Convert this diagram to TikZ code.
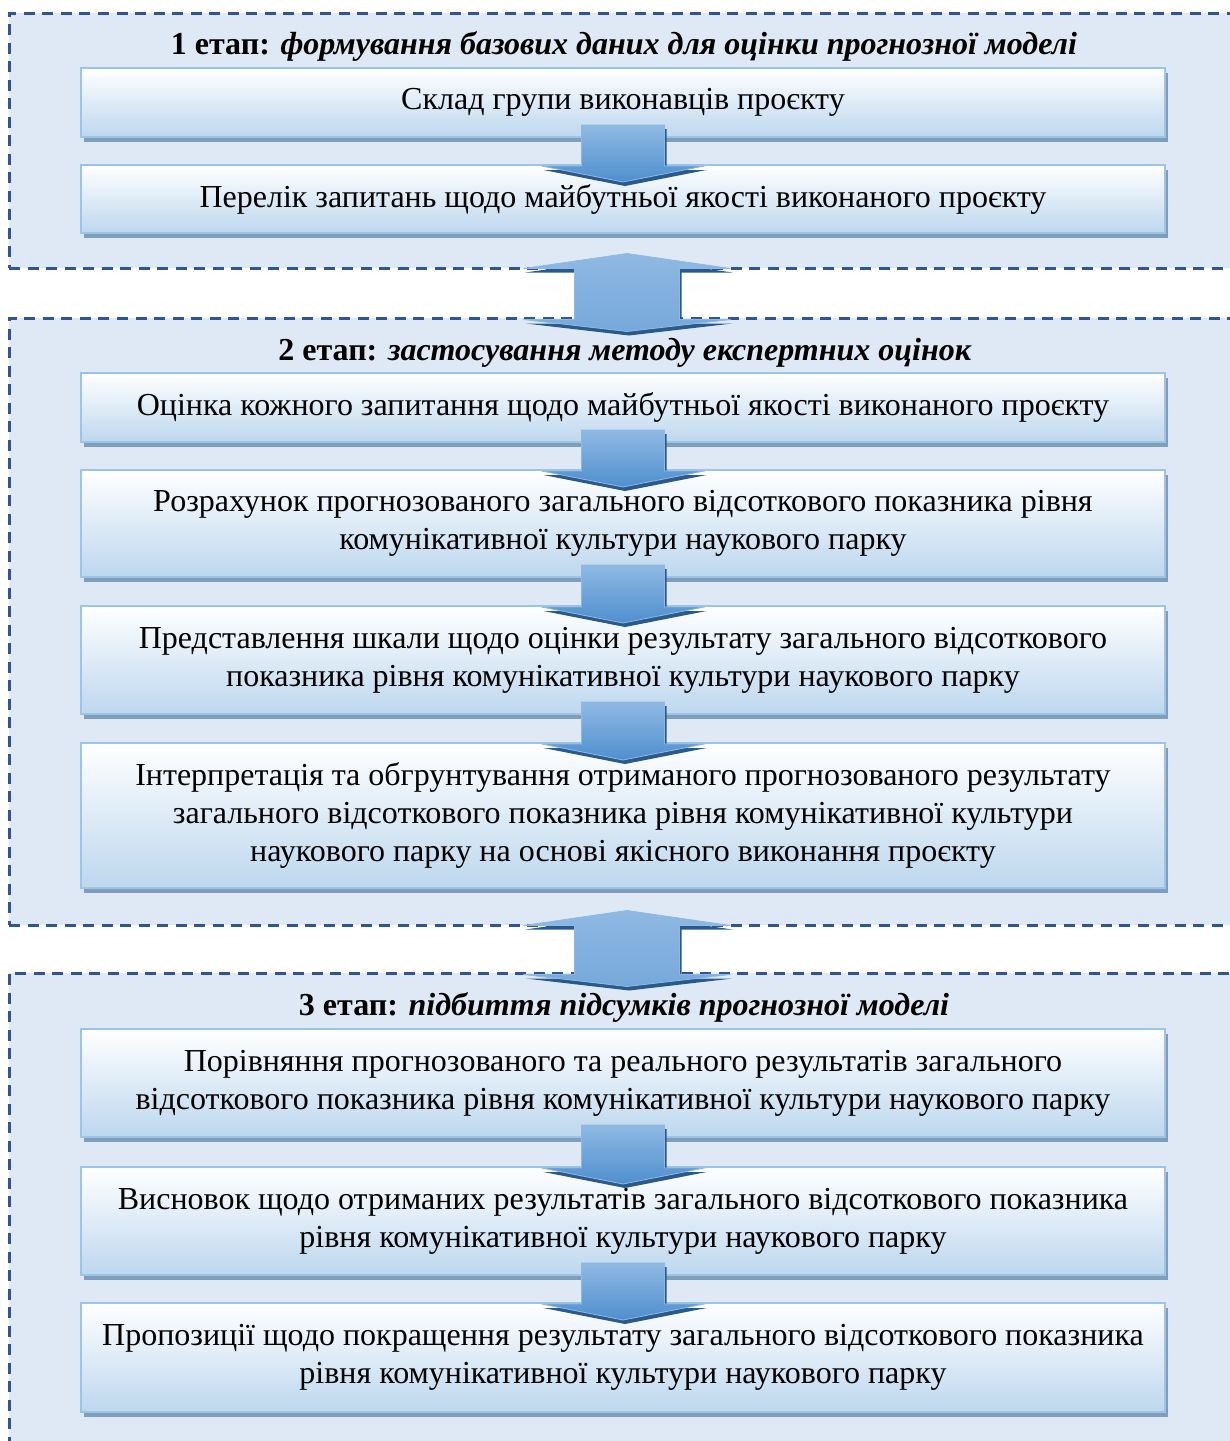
\documentclass[tikz,border=0pt]{standalone}
\usepackage{fontspec}
\setmainfont{Liberation Serif}
\usetikzlibrary{calc,shadows}

\definecolor{panelfill}{HTML}{DEE9F5}
\definecolor{dashblue}{HTML}{2F5597}
\definecolor{boxedge}{HTML}{9DC3E6}
\definecolor{boxlow}{HTML}{BDD7EE}
\definecolor{boxshadow}{HTML}{7F9DBD}
\definecolor{arrowlight}{HTML}{8FB9E3}
\definecolor{arrowmid}{HTML}{4F8FCE}
\definecolor{arrowdark}{HTML}{2A5A8C}

\tikzset{
  panel/.style={rectangle, fill=panelfill, draw=dashblue, line width=3pt,
    dash pattern=on 11pt off 7.5pt, minimum width=1236pt, inner sep=0pt},
  stagetitle/.style={anchor=base, inner sep=0pt, font=\fontsize{32}{38}\selectfont\bfseries},
  stepbox/.style={rectangle, minimum width=1084pt, inner sep=0pt, align=center,
    font=\fontsize{32}{38}\selectfont, draw=boxedge, line width=2pt,
    top color=white, middle color=boxlow!40!white, bottom color=boxlow,
    general shadow={fill=boxshadow, shadow xshift=3pt, shadow yshift=-5pt}},
  arrowshadow/.style={fill=arrowdark, draw=none},
  downfill/.style={top color=arrowlight, bottom color=arrowmid, draw=arrowlight, line width=0.8pt},
  linkfill/.style={top color=arrowlight, middle color=arrowmid, bottom color=arrowlight!60!arrowmid,
    draw=arrowlight, line width=0.8pt}
}

% block arrow pointing down from one box into the next
\newcommand{\steparrow}[2]{%
  \foreach \dx/\dy/\sty in {2pt/-4pt/arrowshadow, 0pt/0pt/downfill}{
    \path[\sty] let \p1=(#1.south), \p2=(#2.north) in
      (\x1-41.5pt+\dx,\y1+13pt+\dy) -- (\x1+41.5pt+\dx,\y1+13pt+\dy)
      -- (\x1+41.5pt+\dx,\y2-2pt+\dy) -- (\x1+81.5pt+\dx,\y2-2pt+\dy)
      -- (\x1+\dx,\y2-18pt+\dy) -- (\x1-81.5pt+\dx,\y2-2pt+\dy)
      -- (\x1-41.5pt+\dx,\y2-2pt+\dy) -- cycle;
  }%
}

% two-headed block arrow linking consecutive stages
\newcommand{\stagelink}[2]{%
  \foreach \dx/\dy/\sty in {2pt/-4pt/arrowshadow, 0pt/0pt/linkfill}{
    \path[\sty] let \p1=(#1.south), \p2=(#2.north) in
      (\x1+\dx,\y1+16pt+\dy) -- (\x1+103.5pt+\dx,\y1+1pt+\dy)
      -- (\x1+52.5pt+\dx,\y1+1pt+\dy) -- (\x1+52.5pt+\dx,\y2-3pt+\dy)
      -- (\x1+103.5pt+\dx,\y2-3pt+\dy) -- (\x1+\dx,\y2-15pt+\dy)
      -- (\x1-103.5pt+\dx,\y2-3pt+\dy) -- (\x1-52.5pt+\dx,\y2-3pt+\dy)
      -- (\x1-52.5pt+\dx,\y1+1pt+\dy) -- (\x1-103.5pt+\dx,\y1+1pt+\dy) -- cycle;
  }%
}

\begin{document}
\begin{tikzpicture}[x=1pt,y=-1pt]
\useasboundingbox (0,0) rectangle (1230,1441);
\clip (0,0) rectangle (1230,1441);

% stage frames
\node[panel, minimum height=255pt] (p1) at (627,140.5) {};
\node[panel, minimum height=607pt] (p2) at (627,621.5) {};
\node[panel, minimum height=487pt] (p3) at (627,1216.5) {};

% stage headings
\node[stagetitle] (t1) at (624,54) {1 етап: \textit{формування базових даних для оцінки прогнозної моделі}};
\node[stagetitle] (t2) at (625,360) {2 етап: \textit{застосування методу експертних оцінок}};
\node[stagetitle] (t3) at (624,1015) {3 етап: \textit{підбиття підсумків прогнозної моделі}};

% stage 1
\node[stepbox, minimum height=69pt] (b1) at (623,102.5) {Склад групи виконавців проєкту};
\node[stepbox, minimum height=68pt] (b2) at (623,199) {Перелік запитань щодо майбутньої якості виконаного проєкту};

% stage 2
\node[stepbox, minimum height=69pt] (b3) at (623,407.5) {Оцінка кожного запитання щодо майбутньої якості виконаного проєкту};
\node[stepbox, minimum height=107pt] (b4) at (623,523.5) {Розрахунок прогнозованого загального відсоткового показника рівня\\комунікативної культури наукового парку};
\node[stepbox, minimum height=108pt] (b5) at (623,660) {Представлення шкали щодо оцінки результату загального відсоткового\\показника рівня комунікативної культури наукового парку};
\node[stepbox, minimum height=145pt] (b6) at (623,815.5) {Інтерпретація та обгрунтування отриманого прогнозованого результату\\загального відсоткового показника рівня комунікативної культури\\наукового парку на основі якісного виконання проєкту};

% stage 3
\node[stepbox, minimum height=108pt] (b7) at (623,1083) {Порівняння прогнозованого та реального результатів загального\\відсоткового показника рівня комунікативної культури наукового парку};
\node[stepbox, minimum height=108pt] (b8) at (623,1221) {Висновок щодо отриманих результатів загального відсоткового показника\\рівня комунікативної культури наукового парку};
\node[stepbox, minimum height=109pt] (b9) at (623,1357.5) {Пропозиції щодо покращення результату загального відсоткового показника\\рівня комунікативної культури наукового парку};

% arrows inside the stages
\steparrow{b1}{b2}
\steparrow{b3}{b4}
\steparrow{b4}{b5}
\steparrow{b5}{b6}
\steparrow{b7}{b8}
\steparrow{b8}{b9}

% arrows between the stages
\stagelink{p1}{p2}
\stagelink{p2}{p3}
\end{tikzpicture}
\end{document}
